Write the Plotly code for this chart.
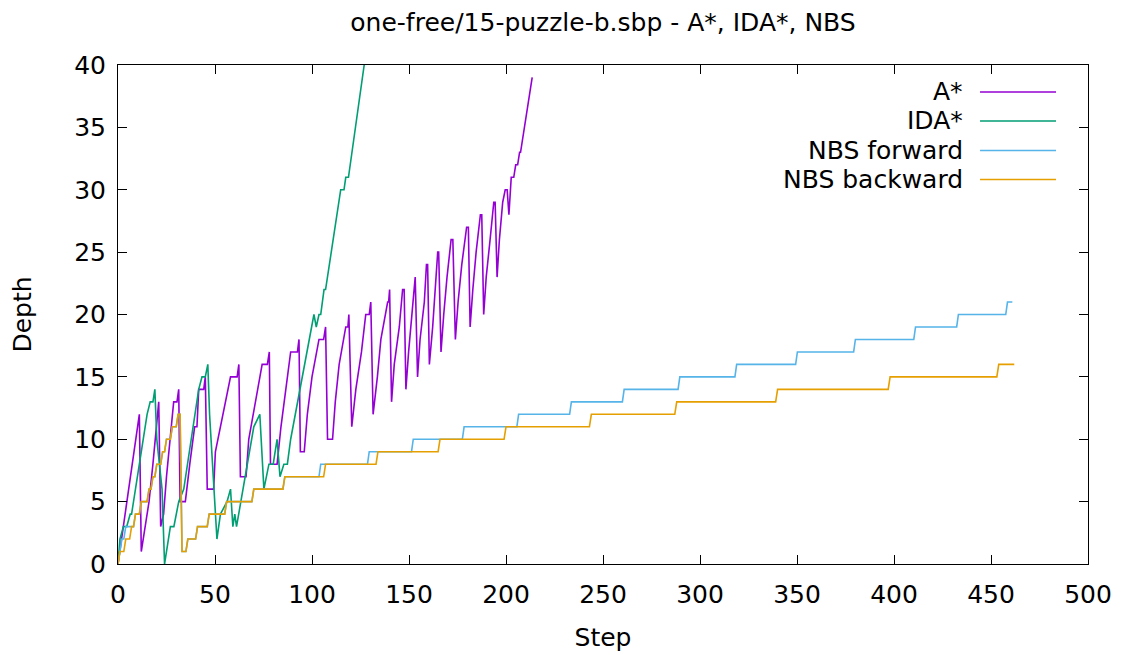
import plotly.graph_objects as go

# ---- data (step, depth) ----
astar_step = [0, 11, 12, 14, 16, 18, 20, 21, 22, 23.5, 25, 27, 28.7, 30.4, 31.3, 32, 34.7, 37, 39.5, 40.7,
              41.6, 44.2, 45, 46, 49.3, 50.2, 54, 58, 61.4, 62.3, 63.1, 66, 67.4, 71, 74.3, 77, 78, 78.6, 82, 84,
              86.4, 89, 92.5, 93.3, 94, 96, 97.6, 100, 103.6, 106, 107, 108, 110.6, 112, 114, 117.4, 118.5, 119, 120.5, 122.6,
              125.5, 127.7, 129.5, 130.3, 131.5, 133.7, 135.5, 139, 139.5, 140, 141, 142.4, 145, 146.7, 147.5, 148.4, 149.8, 151.5, 153.2, 154.4,
              155.7, 157.9, 159, 159.6, 160.5, 162.2, 163.4, 164.8, 165.3, 166.5, 167.9, 169.6, 171.7, 172.6, 173.9, 175.3, 177.2, 179.7, 180.6, 181.5,
              182.9, 184.6, 186.8, 187.5, 188.5, 189.8, 191.8, 193.7, 194.4, 195.4, 196.6, 198.3, 199.6, 200.6, 201.5, 202.7, 204, 205, 206, 207,
              207.5, 213.5]
astar_depth = [0, 12, 1, 3, 5, 8, 11, 13, 3, 4, 7, 10, 13, 13, 14, 5, 5, 8, 11, 11,
               14, 14, 15, 6, 6, 9, 12, 15, 15, 16, 7, 7, 10, 13, 16, 16, 17, 8, 8, 11,
               14, 17, 17, 18, 9, 9, 12, 15, 18, 18, 19, 10, 10, 13, 16, 19, 19, 20, 11, 14,
               17, 20, 20, 21, 12, 15, 18, 21, 21, 22, 13, 16, 19, 22, 22, 14, 17, 20, 23, 15,
               18, 21, 24, 24, 16, 19, 22, 25, 25, 17, 20, 23, 26, 26, 18, 21, 24, 27, 27, 19,
               22, 25, 28, 28, 20, 23, 26, 29, 29, 23, 26, 29, 30, 30, 28, 31, 31, 32, 32, 33,
               33, 39]

ida_step = [0, 1, 2.8, 4.5, 6.3, 7, 15, 16.6, 18, 19, 20, 22.7, 24, 27, 28.8, 31.3, 33.9, 41.6, 43.3, 45,
            46.3, 47.2, 51, 52.8, 56.2, 58, 59.2, 60.2, 61.1, 65.7, 70, 73.1, 75.2, 77.8, 80, 82, 83.5, 85.5, 87.3, 89,
            98.4, 101, 102.2, 103.6, 104.5, 106.2, 107, 114.8, 116.5, 117.4, 118.8, 126.9]
ida_depth = [0, 2, 3, 3, 4, 4, 12, 13, 13, 14, 10, 6, 0, 3, 3, 5, 6, 14, 15, 15,
             16, 12, 2, 4, 5, 6, 3, 4, 3, 7, 11, 12, 6, 8, 8, 10, 7, 8, 8, 10,
             18, 20, 19, 20, 20, 22, 22, 30, 30, 31, 31, 40]

nbsb_step = [0, 1, 3, 4, 6, 7, 8, 9, 11, 12, 15, 16, 17, 18, 19, 20, 22, 23, 24, 25,
             27, 28, 30, 31, 32, 33, 35, 36, 40, 41, 46, 47, 55, 56, 69, 70, 85, 86, 106, 107,
             133, 134, 165, 166, 199, 200, 243, 244, 287, 288, 339, 340, 397, 398, 453, 454, 462]
nbsb_depth = [0, 1, 1, 2, 2, 3, 3, 4, 4, 5, 5, 6, 6, 7, 7, 8, 8, 9, 9, 10,
              10, 11, 11, 12, 12, 1, 1, 2, 2, 3, 3, 4, 4, 5, 5, 6, 6, 7, 7, 8,
              8, 9, 9, 10, 10, 11, 11, 12, 12, 13, 13, 14, 14, 15, 15, 16, 16]

nbsf_step = [0, 1, 2, 3, 4, 6, 7, 8, 9, 11, 12, 15, 16, 17, 18, 19, 20, 22, 23, 24,
             25, 27, 28, 30, 31, 32, 33, 35, 36, 40, 41, 46, 47, 55, 56, 69, 70, 85, 86, 103.6,
             104.5, 128.6, 129.5, 151.3, 152.2, 177.5, 178.4, 205.6, 206.5, 232.8, 233.7, 260, 260.9, 288.7, 289.6, 318, 318.9, 349.3, 350.2, 379.2,
             380.1, 410.2, 411.1, 432.3, 433.2, 457.6, 458.5, 461]
nbsf_depth = [0, 1, 2, 2, 3, 3, 3, 3, 4, 4, 5, 5, 6, 6, 7, 7, 8, 8, 9, 9,
              10, 10, 11, 11, 12, 12, 1, 1, 2, 2, 3, 3, 4, 4, 5, 5, 6, 6, 7, 7,
              8, 8, 9, 9, 10, 10, 11, 11, 12, 12, 13, 13, 14, 14, 15, 15, 16, 16, 17, 17,
              18, 18, 19, 19, 20, 20, 21, 21]

series_names = ["A*", "IDA*", "NBS forward", "NBS backward"]
series_colors = ["#9400d3", "#009e73", "#56b4e9", "#e69f00"]

x_ticks = [0, 50, 100, 150, 200, 250, 300, 350, 400, 450, 500]
y_ticks = [0, 5, 10, 15, 20, 25, 30, 35, 40]

FONT = "DejaVu Sans"
FS = 25

fig = go.Figure()
data = [(astar_step, astar_depth), (ida_step, ida_depth), (nbsf_step, nbsf_depth), (nbsb_step, nbsb_depth)]
for (xs, ys), name, col in zip(data, series_names, series_colors):
    fig.add_trace(go.Scatter(x=xs, y=ys, mode="lines", name=name,
                             line=dict(color=col, width=1.6), showlegend=False))

# gnuplot-style legend: text right-aligned, sample line to the right
legend_rows = [0.946, 0.8878, 0.8287, 0.7705]
for name, col, yp in zip(series_names, series_colors, legend_rows):
    fig.add_annotation(x=0.8735, y=yp, xref="paper", yref="paper", text=name,
                       showarrow=False, xanchor="right", yanchor="middle",
                       font=dict(family=FONT, size=FS, color="black"))
    fig.add_shape(type="line", xref="paper", yref="paper", x0=0.8887, x1=0.967, y0=yp, y1=yp,
                  line=dict(color=col, width=1.6))

axis_common = dict(showline=True, linecolor="black", linewidth=1, mirror="allticks",
                   ticks="inside", ticklen=9, tickwidth=1, tickcolor="black",
                   showgrid=False, zeroline=False, automargin=False,
                   tickfont=dict(family=FONT, size=FS, color="black"))

fig.update_layout(
    width=1124, height=655,
    paper_bgcolor="white", plot_bgcolor="white",
    margin=dict(l=110, r=44, t=57, b=99),
    title=dict(text="one-free/15-puzzle-b.sbp - A*, IDA*, NBS", xref="paper", x=0.5, xanchor="center",
               y=1 - 14 / 655, yanchor="middle", font=dict(family=FONT, size=FS, color="black")),
    xaxis=dict(range=[0, 500], tickvals=x_ticks, ticktext=[str(v) for v in x_ticks],
               ticklabelstandoff=8,
               title=dict(text="Step", font=dict(family=FONT, size=FS, color="black"), standoff=20),
               **axis_common),
    yaxis=dict(range=[0, 40], tickvals=y_ticks, ticktext=[str(v) for v in y_ticks],
               ticklabelstandoff=6,
               title=dict(text="Depth", font=dict(family=FONT, size=FS, color="black"), standoff=36),
               **axis_common),
    font=dict(family=FONT, size=FS, color="black"),
)

fig.write_html("out.html")
